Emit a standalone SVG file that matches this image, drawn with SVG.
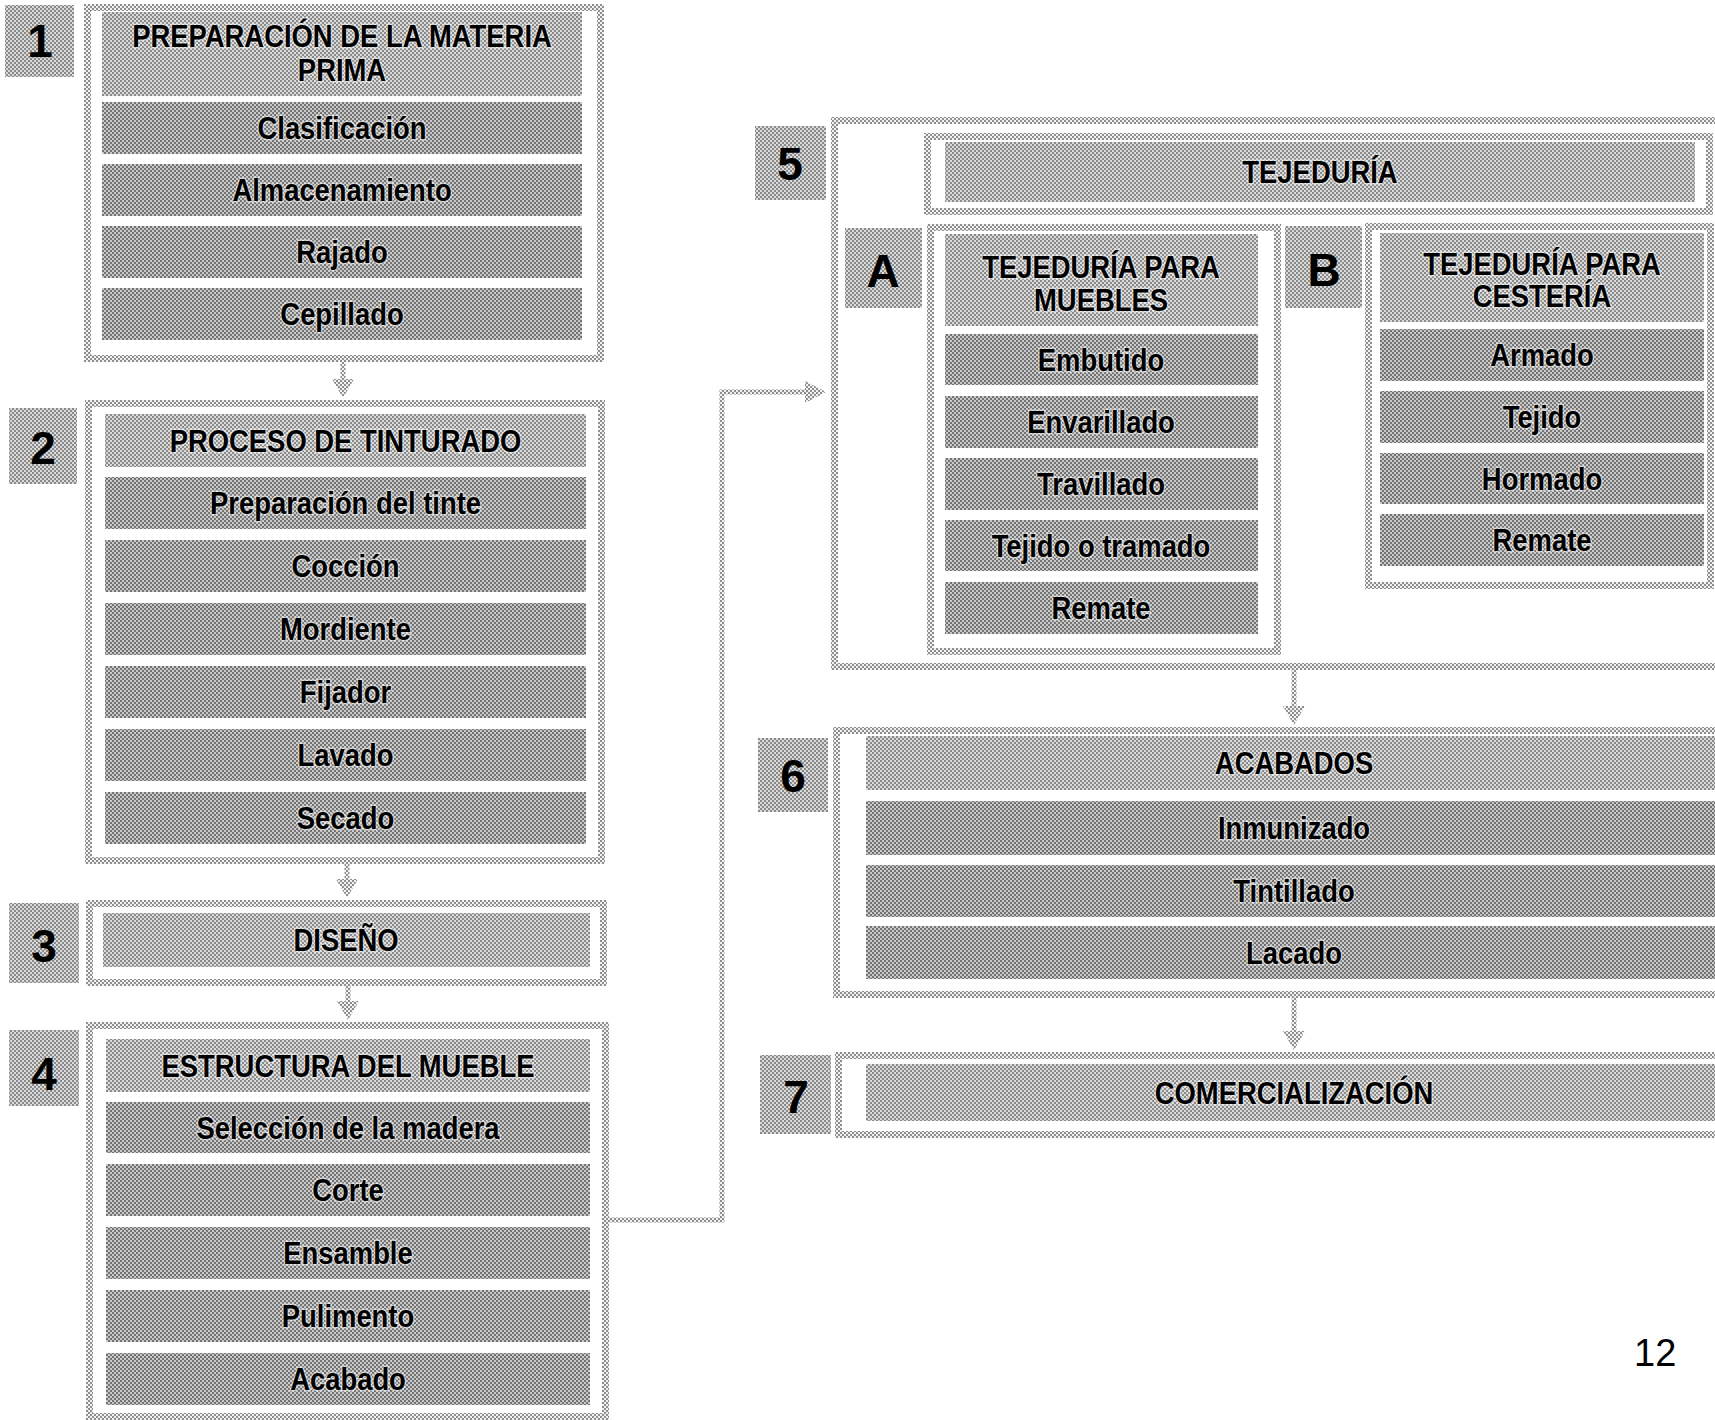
<svg xmlns="http://www.w3.org/2000/svg" width="1715" height="1420" viewBox="0 0 1715 1420">
<defs>
<pattern id="pl" width="4" height="4" patternUnits="userSpaceOnUse"><rect width="4" height="4" fill="#dadada"/><rect width="2" height="2" fill="#8a8a8a"/><rect x="2" y="2" width="2" height="2" fill="#8a8a8a"/></pattern>
<pattern id="pd" width="4" height="4" patternUnits="userSpaceOnUse"><rect width="4" height="4" fill="#cacaca"/><rect width="2" height="2" fill="#737373"/><rect x="2" y="2" width="2" height="2" fill="#737373"/></pattern>
<pattern id="pf" width="4" height="4" patternUnits="userSpaceOnUse"><rect width="4" height="4" fill="#f2f2f2"/><rect width="2" height="2" fill="#8e8e8e"/><rect x="2" y="2" width="2" height="2" fill="#8e8e8e"/></pattern>
<style>
.frame{fill:#fff;stroke:url(#pf);stroke-width:7}
.bar{fill:url(#pd)}
.ttl{fill:url(#pl)}
.nb{fill:url(#pl)}
.arw{fill:url(#pf)}
.con{fill:none;stroke:url(#pf);stroke-width:5}
.t{font-family:"Liberation Sans",Arial,sans-serif;font-weight:bold;font-size:31.5px;text-anchor:middle;fill:#000;stroke:#fff;stroke-opacity:.5;stroke-width:3;paint-order:stroke}
.n{font-family:"Liberation Sans",Arial,sans-serif;font-weight:bold;font-size:46px;text-anchor:middle;fill:#000}
.pg{font-family:"Liberation Sans",Arial,sans-serif;font-size:38px;fill:#000}
</style>
</defs>
<rect width="1715" height="1420" fill="#fff"/>

<g id="connectors">
<rect class="arw" x="340.5" y="362" width="5" height="18"/><polygon class="arw" points="332,379 354,379 343,398"/>
<rect class="arw" x="344.5" y="864" width="5" height="16"/><polygon class="arw" points="336,879 358,879 347,898"/>
<rect class="arw" x="345.5" y="986" width="5" height="16"/><polygon class="arw" points="337,1001 359,1001 348,1020"/>
<path class="con" d="M609,1220 H722 V392 H806"/><polygon class="arw" points="805,381 805,403 826,392"/>
<rect class="arw" x="1291.5" y="670" width="5" height="37"/><polygon class="arw" points="1283,706 1305,706 1294,725"/>
<rect class="arw" x="1291.5" y="998" width="5" height="34"/><polygon class="arw" points="1283,1031 1305,1031 1294,1050"/>
</g>

<g id="node-1">
<rect class="nb" x="5" y="5" width="69" height="72"/>
<text class="n" x="40" y="57">1</text>
<rect class="frame" x="87.5" y="7.5" width="513" height="351"/>
<rect class="ttl" x="102" y="12" width="480" height="84"/>
<rect class="bar" x="102" y="102" width="480" height="52"/>
<rect class="bar" x="102" y="164" width="480" height="52"/>
<rect class="bar" x="102" y="226" width="480" height="52"/>
<rect class="bar" x="102" y="288" width="480" height="52"/>
<g transform="translate(342 0) scale(0.87 1)">
<text class="t" x="0" y="47">PREPARACIÓN DE LA MATERIA</text>
<text class="t" x="0" y="81">PRIMA</text>
<text class="t" x="0" y="139">Clasificación</text>
<text class="t" x="0" y="201">Almacenamiento</text>
<text class="t" x="0" y="263">Rajado</text>
<text class="t" x="0" y="325">Cepillado</text>
</g>
</g>

<g id="node-2">
<rect class="nb" x="9" y="408" width="68" height="76"/>
<text class="n" x="43" y="464">2</text>
<rect class="frame" x="88.5" y="403.5" width="513" height="457"/>
<rect class="ttl" x="105" y="414" width="481" height="53"/>
<rect class="bar" x="105" y="477" width="481" height="52"/>
<rect class="bar" x="105" y="540" width="481" height="52"/>
<rect class="bar" x="105" y="603" width="481" height="52"/>
<rect class="bar" x="105" y="666" width="481" height="52"/>
<rect class="bar" x="105" y="729" width="481" height="52"/>
<rect class="bar" x="105" y="792" width="481" height="52"/>
<g transform="translate(345.5 0) scale(0.87 1)">
<text class="t" x="0" y="452">PROCESO DE TINTURADO</text>
<text class="t" x="0" y="514">Preparación del tinte</text>
<text class="t" x="0" y="577">Cocción</text>
<text class="t" x="0" y="640">Mordiente</text>
<text class="t" x="0" y="703">Fijador</text>
<text class="t" x="0" y="766">Lavado</text>
<text class="t" x="0" y="829">Secado</text>
</g>
</g>

<g id="node-3">
<rect class="nb" x="9" y="903" width="70" height="80"/>
<text class="n" x="44" y="962">3</text>
<rect class="frame" x="89.5" y="903.5" width="514" height="79"/>
<rect class="ttl" x="103" y="913" width="487" height="54"/>
<g transform="translate(346 0) scale(0.87 1)">
<text class="t" x="0" y="951">DISEÑO</text>
</g>
</g>

<g id="node-4">
<rect class="nb" x="9" y="1030" width="70" height="76"/>
<text class="n" x="44" y="1090">4</text>
<rect class="frame" x="89.5" y="1025.5" width="516" height="391"/>
<rect class="ttl" x="106" y="1039" width="484" height="53"/>
<rect class="bar" x="106" y="1102" width="484" height="51"/>
<rect class="bar" x="106" y="1164" width="484" height="52"/>
<rect class="bar" x="106" y="1227" width="484" height="52"/>
<rect class="bar" x="106" y="1290" width="484" height="52"/>
<rect class="bar" x="106" y="1353" width="484" height="52"/>
<g transform="translate(348 0) scale(0.87 1)">
<text class="t" x="0" y="1077">ESTRUCTURA DEL MUEBLE</text>
<text class="t" x="0" y="1139">Selección de la madera</text>
<text class="t" x="0" y="1201">Corte</text>
<text class="t" x="0" y="1264">Ensamble</text>
<text class="t" x="0" y="1327">Pulimento</text>
<text class="t" x="0" y="1390">Acabado</text>
</g>
</g>

<g id="node-5">
<rect class="nb" x="755" y="126" width="71" height="74"/>
<text class="n" x="790" y="180">5</text>
<rect class="frame" x="834.5" y="120.5" width="890" height="546"/>
<rect class="frame" x="927.5" y="136.5" width="782" height="75"/>
<rect class="ttl" x="945" y="142" width="750" height="60"/>
<g transform="translate(1320 0) scale(0.87 1)">
<text class="t" x="0" y="183">TEJEDURÍA</text>
</g>
</g>

<g id="node-5a">
<rect class="nb" x="845" y="228" width="77" height="80"/>
<text class="n" x="883" y="287">A</text>
<rect class="frame" x="930.5" y="227.5" width="347" height="424"/>
<rect class="ttl" x="945" y="234" width="313" height="92"/>
<rect class="bar" x="945" y="334" width="313" height="51"/>
<rect class="bar" x="945" y="396" width="313" height="52"/>
<rect class="bar" x="945" y="458" width="313" height="52"/>
<rect class="bar" x="945" y="520" width="313" height="51"/>
<rect class="bar" x="945" y="582" width="313" height="52"/>
<g transform="translate(1101 0) scale(0.87 1)">
<text class="t" x="0" y="278">TEJEDURÍA PARA</text>
<text class="t" x="0" y="311">MUEBLES</text>
<text class="t" x="0" y="371">Embutido</text>
<text class="t" x="0" y="433">Envarillado</text>
<text class="t" x="0" y="495">Travillado</text>
<text class="t" x="0" y="557">Tejido o tramado</text>
<text class="t" x="0" y="619">Remate</text>
</g>
</g>

<g id="node-5b">
<rect class="nb" x="1285" y="226" width="77" height="82"/>
<text class="n" x="1324" y="286">B</text>
<rect class="frame" x="1368.5" y="226.5" width="342" height="359"/>
<rect class="ttl" x="1380" y="233" width="324" height="89"/>
<rect class="bar" x="1380" y="329" width="324" height="52"/>
<rect class="bar" x="1380" y="391" width="324" height="52"/>
<rect class="bar" x="1380" y="453" width="324" height="51"/>
<rect class="bar" x="1380" y="514" width="324" height="52"/>
<g transform="translate(1542 0) scale(0.87 1)">
<text class="t" x="0" y="275">TEJEDURÍA PARA</text>
<text class="t" x="0" y="307">CESTERÍA</text>
<text class="t" x="0" y="366">Armado</text>
<text class="t" x="0" y="428">Tejido</text>
<text class="t" x="0" y="490">Hormado</text>
<text class="t" x="0" y="551">Remate</text>
</g>
</g>

<g id="node-6">
<rect class="nb" x="758" y="738" width="70" height="74"/>
<text class="n" x="793" y="792">6</text>
<rect class="frame" x="836.5" y="730.5" width="890" height="264"/>
<rect class="ttl" x="866" y="736" width="856" height="54"/>
<rect class="bar" x="866" y="801" width="856" height="54"/>
<rect class="bar" x="866" y="865" width="856" height="52"/>
<rect class="bar" x="866" y="926" width="856" height="53"/>
<g transform="translate(1294 0) scale(0.87 1)">
<text class="t" x="0" y="774">ACABADOS</text>
<text class="t" x="0" y="839">Inmunizado</text>
<text class="t" x="0" y="902">Tintillado</text>
<text class="t" x="0" y="964">Lacado</text>
</g>
</g>

<g id="node-7">
<rect class="nb" x="760" y="1055" width="71" height="79"/>
<text class="n" x="796" y="1113">7</text>
<rect class="frame" x="838.5" y="1055.5" width="890" height="79"/>
<rect class="ttl" x="866" y="1064" width="856" height="57"/>
<g transform="translate(1294 0) scale(0.87 1)">
<text class="t" x="0" y="1104">COMERCIALIZACIÓN</text>
</g>
</g>

<text class="pg" x="1634" y="1366">12</text>
</svg>
